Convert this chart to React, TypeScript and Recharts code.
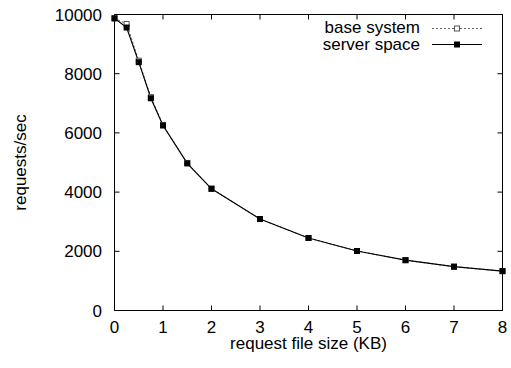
import React from 'react';
import { LineChart, Line, XAxis, YAxis, Legend } from 'recharts';

const sizes = [0, 0.25, 0.5, 0.75, 1, 1.5, 2, 3, 4, 5, 6, 7, 8];
const baseSystem = [9870, 9680, 8440, 7210, 6270, 4980, 4120, 3090, 2450, 2010, 1700, 1480, 1330];
const serverSpace = [9870, 9560, 8390, 7170, 6250, 4970, 4110, 3090, 2450, 2010, 1700, 1480, 1330];
const xTicks = [0, 1, 2, 3, 4, 5, 6, 7, 8];
const yTicks = [0, 2000, 4000, 6000, 8000, 10000];
const seriesNames = ['base system', 'server space'];

const data = sizes.map((s, i) => ({ size: s, base: baseSystem[i], server: serverSpace[i] }));

const FONT = '"Liberation Sans", Arial, Helvetica, sans-serif';
const FS = 17;
const TL = 5;

const OpenSquare = (props: any) => {
  const { cx, cy, index } = props;
  if (cx == null || cy == null) return <g key={index} />;
  return <rect key={index} x={cx - 2.5} y={cy - 2.5} width={5} height={5} fill="#fff" stroke="#555" strokeWidth={1} />;
};
const FilledSquare = (props: any) => {
  const { cx, cy, index } = props;
  if (cx == null || cy == null) return <g key={index} />;
  return <rect key={index} x={cx - 3} y={cy - 3} width={6} height={6} fill="#000" stroke="none" />;
};

const BottomTick = (props: any) => {
  const { x, y, payload } = props;
  return (
    <g>
      <line x1={x} x2={x} y1={y} y2={y - TL} stroke="#000" strokeWidth={1} />
      <text x={x} y={y + 22} textAnchor="middle" fontSize={FS} fill="#000">{payload.value}</text>
    </g>
  );
};
const TopTick = (props: any) => {
  const { x, y } = props;
  return <line x1={x} x2={x} y1={y} y2={y + TL} stroke="#000" strokeWidth={1} />;
};
const LeftTick = (props: any) => {
  const { x, y, payload } = props;
  return (
    <g>
      <line x1={x} x2={x + TL} y1={y} y2={y} stroke="#000" strokeWidth={1} />
      <text x={x - 12.5} y={y} dy="0.355em" textAnchor="end" fontSize={FS} fill="#000">{payload.value}</text>
    </g>
  );
};
const RightTick = (props: any) => {
  const { x, y } = props;
  return <line x1={x} x2={x - TL} y1={y} y2={y} stroke="#000" strokeWidth={1} />;
};

const LegendContent = () => (
  <svg width={170} height={36} style={{ fontFamily: FONT, overflow: 'visible' }}>
    <text x={100} y={9.5} textAnchor="end" dominantBaseline="central" fontSize={FS} fill="#000">{seriesNames[0]}</text>
    <line x1={112} x2={162} y1={10.5} y2={10.5} stroke="#666" strokeWidth={1} strokeDasharray="2 2" />
    <rect x={134.5} y={8} width={5} height={5} fill="#fff" stroke="#555" />
    <text x={100} y={26.5} textAnchor="end" dominantBaseline="central" fontSize={FS} fill="#000">{seriesNames[1]}</text>
    <line x1={112} x2={162} y1={26.5} y2={26.5} stroke="#000" strokeWidth={1.2} />
    <rect x={134} y={23.5} width={6} height={6} fill="#000" />
  </svg>
);

export default function App() {
  return (
    <div style={{ position: 'absolute', left: 0, top: 0, width: 511, height: 368, background: '#fff', fontFamily: FONT }}>
      <LineChart
        width={511}
        height={368}
        data={data}
        margin={{ top: 9.5, right: 3.5, bottom: 17.5, left: 14.5 }}
        style={{ fontFamily: FONT }}
      >
        <XAxis
          xAxisId="bottom"
          dataKey="size"
          type="number"
          domain={[0, 8]}
          ticks={xTicks}
          height={40}
          tickSize={0}
          tickMargin={0}
          tickLine={false}
          stroke="#000"
          tick={<BottomTick />}
          interval={0}
          label={{ value: 'request file size (KB)', position: 'insideBottom', offset: 1.5, fill: '#000', fontSize: FS }}
        />
        <XAxis
          xAxisId="top"
          orientation="top"
          dataKey="size"
          type="number"
          domain={[0, 8]}
          ticks={xTicks}
          height={5}
          tickSize={0}
          tickMargin={0}
          tickLine={false}
          tick={<TopTick />}
          interval={0}
          stroke="#000"
        />
        <YAxis
          yAxisId="left"
          type="number"
          domain={[0, 10000]}
          ticks={yTicks}
          width={100}
          tickSize={0}
          tickMargin={0}
          tickLine={false}
          stroke="#000"
          tick={<LeftTick />}
          interval={0}
          label={{ value: 'requests/sec', angle: -90, position: 'insideLeft', offset: 5.5, fill: '#000', fontSize: FS, style: { textAnchor: 'middle' } }}
        />
        <YAxis
          yAxisId="right"
          orientation="right"
          dataKey="base"
          type="number"
          domain={[0, 10000]}
          ticks={yTicks}
          width={5}
          tickSize={0}
          tickMargin={0}
          tickLine={false}
          tick={<RightTick />}
          interval={0}
          stroke="#000"
        />
        <Legend
          content={<LegendContent />}
          layout="horizontal"
          align="center"
          verticalAlign="middle"
          wrapperStyle={{ position: 'absolute', left: 320, top: 18, width: 170, height: 36 }}
        />
        <Line
          xAxisId="bottom"
          yAxisId="left"
          type="linear"
          dataKey="base"
          name={seriesNames[0]}
          stroke="#555"
          strokeWidth={1}
          strokeDasharray="2 2"
          dot={OpenSquare}
          activeDot={false}
          isAnimationActive={false}
        />
        <Line
          xAxisId="bottom"
          yAxisId="left"
          type="linear"
          dataKey="server"
          name={seriesNames[1]}
          stroke="#000"
          strokeWidth={1.2}
          dot={FilledSquare}
          activeDot={false}
          isAnimationActive={false}
        />
      </LineChart>
    </div>
  );
}
